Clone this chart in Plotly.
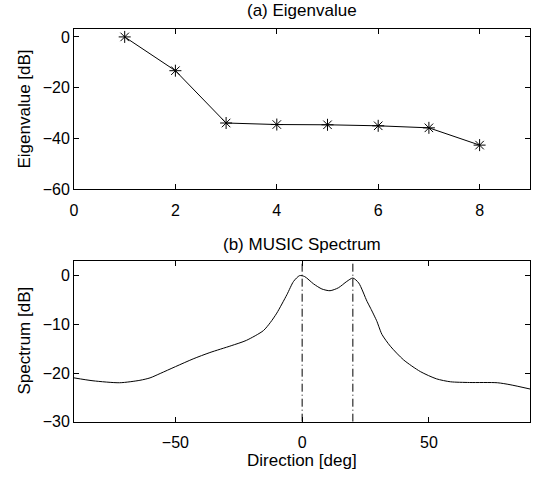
import plotly.graph_objects as go

# ---- data ----
eig_index = [1, 2, 3, 4, 5, 6, 7, 8]
eig_db = [0.0, -13.3, -33.9, -34.5, -34.6, -35.0, -35.8, -42.6]

dir_deg = [-90, -82.5, -72, -64, -60, -56, -50, -43, -36.4, -28, -22, -15.3, -12.5,
           -10, -6, -3.4, -1, 1, 4.5, 7.8, 11, 14.3, 17.6, 20, 22.3, 25.6, 27, 29.5,
           30.2, 31.5, 34.8, 40, 46.6, 53, 58.5, 66, 77, 82, 90]
spec_db = [-21.0, -21.6, -22.0, -21.5, -21.0, -20.1, -18.7, -17.1, -15.8, -14.4,
           -13.3, -11.3, -9.6, -7.7, -3.9, -1.2, 0.0, -0.2, -1.7, -2.75, -3.1, -2.5,
           -1.2, -0.5, -1.5, -5.3, -6.7, -9.4, -10.4, -12.1, -14.5, -17.3, -19.7,
           -21.2, -21.8, -21.95, -22.0, -22.4, -23.3]

true_dirs = [0, 20]

top_xticks = [0, 2, 4, 6, 8]
top_yticks = [0, -20, -40, -60]
bot_xticks = [-50, 0, 50]
bot_yticks = [0, -10, -20, -30]

FONT = "Liberation Sans, Arial, Helvetica, sans-serif"

fig = go.Figure()

fig.add_trace(go.Scatter(
    x=eig_index, y=eig_db, mode="lines+markers",
    line=dict(color="black", width=1),
    marker=dict(symbol="asterisk-open", size=10, color="black",
                line=dict(color="black", width=1)),
    xaxis="x", yaxis="y", showlegend=False))

fig.add_trace(go.Scatter(
    x=dir_deg, y=spec_db, mode="lines",
    line=dict(color="black", width=1, shape="spline", smoothing=0.7),
    xaxis="x2", yaxis="y2", showlegend=False))

for d in true_dirs:
    fig.add_trace(go.Scatter(
        x=[d, d], y=[-30, 3], mode="lines",
        line=dict(color="black", width=1, dash="8px,3px,1px,3px"),
        xaxis="x2", yaxis="y2", showlegend=False))

axis_common = dict(
    showline=True, linecolor="black", linewidth=1, mirror="ticks",
    ticks="inside", ticklen=5, tickcolor="black", tickwidth=1,
    showgrid=False, zeroline=False, automargin=False,
    tickfont=dict(family=FONT, size=16, color="black"),
)

xd = [74.0 / 539, 530.3 / 539]
fig.update_layout(
    template="none",
    width=539, height=477,
    margin=dict(l=0, r=0, t=0, b=0),
    paper_bgcolor="white", plot_bgcolor="white",
    xaxis=dict(domain=xd, range=[0, 9], tickvals=top_xticks, anchor="y",
               ticklabelstandoff=6, **axis_common),
    yaxis=dict(domain=[1 - 189.3 / 477, 1 - 29.3 / 477], range=[-60, 3],
               tickvals=top_yticks, anchor="x", **axis_common),
    xaxis2=dict(domain=xd, range=[-90, 90], tickvals=bot_xticks, anchor="y2",
                ticklabelstandoff=6, **axis_common),
    yaxis2=dict(domain=[1 - 421.7 / 477, 1 - 261 / 477], range=[-30, 3],
                tickvals=bot_yticks, anchor="x2", **axis_common),
    font=dict(family=FONT, color="black"),
)

ann_font = dict(family=FONT, size=17, color="black")
cx = (74.0 + 530.3) / 2 / 539


def label(text, x_px, y_px, angle=0):
    fig.add_annotation(text=text, x=x_px / 539, y=1 - y_px / 477,
                       xref="paper", yref="paper", xanchor="center", yanchor="middle",
                       showarrow=False, textangle=angle, font=ann_font)


label("(a) Eigenvalue", cx * 539, 11)
label("(b) MUSIC Spectrum", cx * 539, 244)
label("Direction [deg]", cx * 539, 460)
label("Eigenvalue [dB]", 23.5, 109, -90)
label("Spectrum [dB]", 23.5, 341, -90)

fig.write_html(
    "out.html",
    config={"displayModeBar": False},
    post_script="document.body.style.margin='0';document.body.style.padding='0';"
                "document.body.style.overflow='hidden';",
)
